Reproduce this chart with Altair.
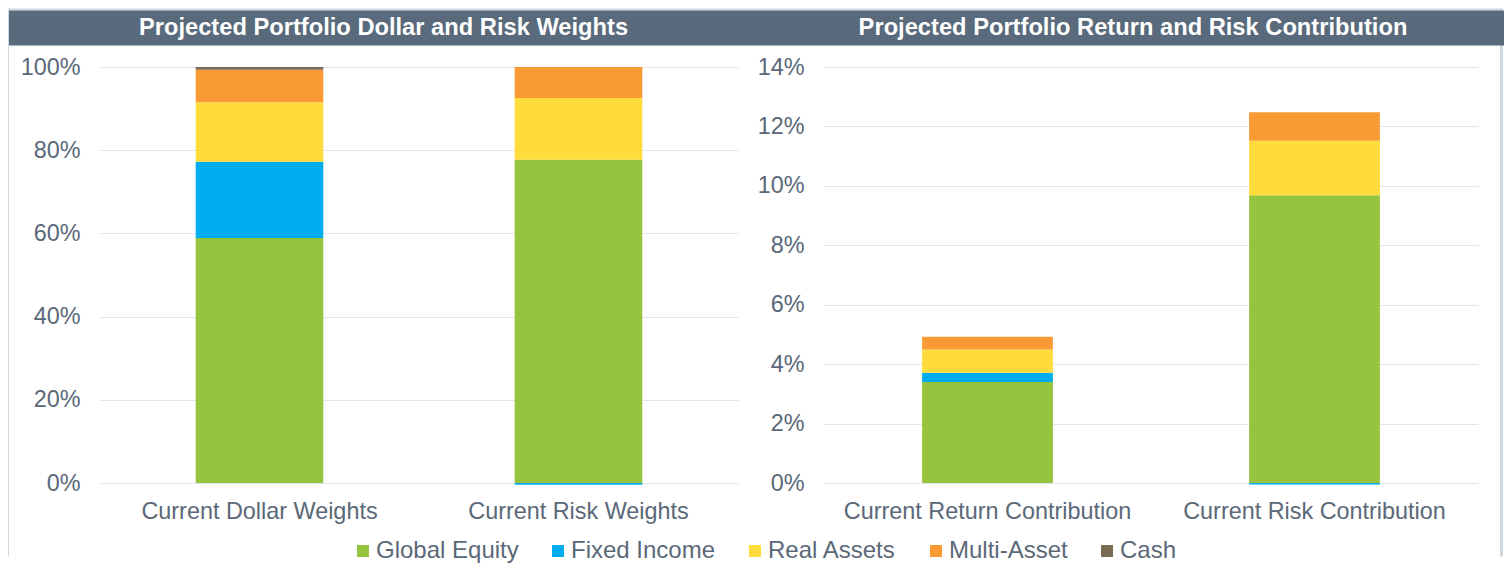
import altair as alt
import pandas as pd

FONT = "Liberation Sans"
TXT = "#5A6878"
BAR_BG = "#586A7B"
FRAME = "#D0D8DF"

series = ["Global Equity", "Fixed Income", "Real Assets", "Multi-Asset", "Cash"]
colors = ["#96C43E", "#00AEEF", "#FFDB3B", "#F99B35", "#7A6B55"]

left_cats = ["Current Dollar Weights", "Current Risk Weights"]
dollar_weights = [58.9, 18.3, 14.3, 7.85, 0.65]
risk_weights = [77.7, -0.4, 14.85, 7.45, 0.0]
left_ticks = [0, 20, 40, 60, 80, 100]

right_cats = ["Current Return Contribution", "Current Risk Contribution"]
return_contrib = [3.40, 0.31, 0.78, 0.43, 0.0]
risk_contrib = [9.68, -0.05, 1.84, 0.96, 0.0]
right_ticks = [0, 2, 4, 6, 8, 10, 12, 14]

titles = ["Projected Portfolio Dollar and Risk Weights",
          "Projected Portfolio Return and Risk Contribution"]


def frame(cats, vals_list):
    rows = []
    for c, vals in zip(cats, vals_list):
        for i, (s, v) in enumerate(zip(series, vals)):
            rows.append({"category": c, "series": s, "value": v, "order": i})
    return pd.DataFrame(rows)


one = alt.Data(values=[{"k": 1}])


def rect(x, x2, y, y2, color):
    return alt.Chart(one).mark_rect(color=color).encode(
        x=alt.value(x), x2=alt.value(x2), y=alt.value(y), y2=alt.value(y2))


def label(text, x, y):
    return alt.Chart(one).mark_text(
        text=text, font=FONT, fontSize=23.7, fontWeight="bold", color="white",
        align="center", baseline="middle").encode(x=alt.value(x), y=alt.value(y))


legend = alt.Legend(
    title=None, orient="none", direction="horizontal", legendX=251, legendY=472,
    symbolType="square", symbolSize=144, symbolStrokeWidth=0, labelFont=FONT,
    labelFontSize=24, labelColor=TXT, labelOffset=1, columnPadding=27, padding=0)


def bars(df, cats, ticks, ymax):
    return alt.Chart(df).mark_bar().encode(
        x=alt.X("category:N", sort=cats,
                scale=alt.Scale(paddingInner=0.6, paddingOuter=0.3),
                axis=alt.Axis(title=None, labelAngle=0, grid=False, labelLimit=500)),
        y=alt.Y("value:Q", stack="zero",
                scale=alt.Scale(domain=[0, ymax], nice=False),
                axis=alt.Axis(title=None, values=ticks, labelExpr="datum.value + '%'")),
        color=alt.Color("series:N", sort=series,
                        scale=alt.Scale(domain=series, range=colors), legend=legend),
        order=alt.Order("order:Q", sort="ascending"),
    )


H = 416
left = alt.layer(
    rect(-92, -91, -58.5, 489.5, FRAME),
    rect(1400, 1403, -58.5, 489.5, FRAME),
    rect(-92, 1403, -58.5, -56.5, FRAME),
    rect(-91, 651, -56.5, -21.5, BAR_BG),
    label(titles[0], 283.5, -39),
    bars(frame(left_cats, [dollar_weights, risk_weights]), left_cats, left_ticks, 100),
).properties(width=638, height=H)

right = alt.layer(
    rect(-73, 680, -56.5, -21.5, BAR_BG),
    label(titles[1], 309, -39),
    bars(frame(right_cats, [return_contrib, risk_contrib]), right_cats, right_ticks, 14),
).properties(width=654, height=H)

chart = alt.hconcat(left, right, spacing=86, bounds="flush").properties(
    padding=0
).configure_view(stroke=None).configure_axis(
    labelFont=FONT, labelFontSize=23.4, labelColor=TXT, domain=False, ticks=False,
    gridColor="#E3E5E8", gridWidth=1.2
).configure_axisX(labelPadding=17).configure_axisY(labelPadding=20)

chart.save("out.html", embed_options={"renderer": "svg", "actions": False})
